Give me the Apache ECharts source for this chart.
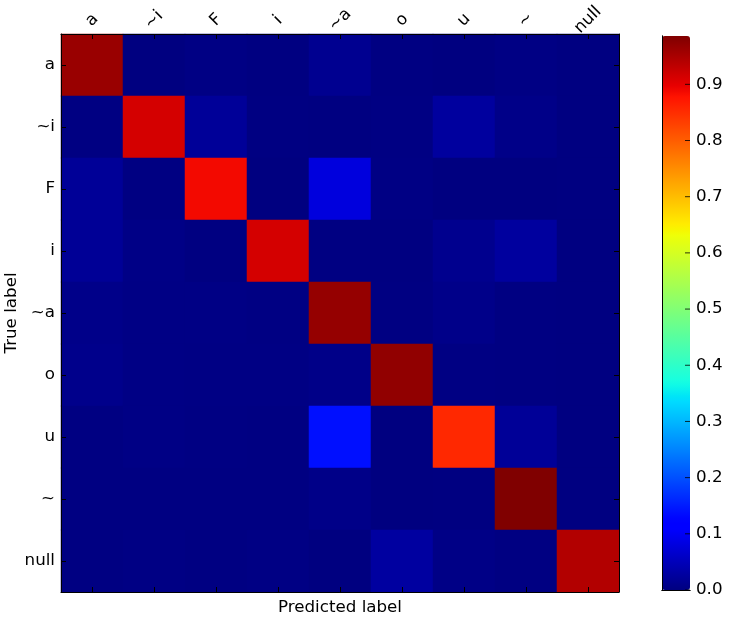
<!doctype html>
<html lang="en">
<head>
    <meta charset="utf-8">
    <title>confusion matrix</title>
    <script src="https://cdn.jsdelivr.net/npm/echarts@6/dist/echarts.min.js"></script>
</head>
<body style="margin:0">
<div id="cm" style="width: 732px;height:617px;"></div>

<script>

var labels = ['a', '~i', 'F', 'i', '~a', 'o', 'u', '~', 'null'];

// rows = true label, columns = predicted label
var rowA    = [0.964, 0.000, 0.004, 0.001, 0.014, 0.002, 0.000, 0.004, 0.001];
var rowTi   = [0.002, 0.914, 0.021, 0.002, 0.001, 0.003, 0.026, 0.007, 0.001];
var rowF    = [0.020, 0.002, 0.887, 0.000, 0.080, 0.004, 0.000, 0.000, 0.001];
var rowI    = [0.019, 0.006, 0.001, 0.914, 0.002, 0.001, 0.012, 0.026, 0.001];
var rowTa   = [0.008, 0.005, 0.005, 0.003, 0.968, 0.002, 0.008, 0.002, 0.001];
var rowO    = [0.010, 0.005, 0.004, 0.004, 0.007, 0.971, 0.003, 0.002, 0.001];
var rowU    = [0.002, 0.005, 0.003, 0.002, 0.138, 0.000, 0.856, 0.020, 0.001];
var rowT    = [0.002, 0.002, 0.002, 0.002, 0.007, 0.000, 0.001, 0.986, 0.001];
var rowNull = [0.002, 0.004, 0.002, 0.004, 0.000, 0.028, 0.006, 0.002, 0.943];

var cbTicks = [0.0, 0.1, 0.2, 0.3, 0.4, 0.5, 0.6, 0.7, 0.8, 0.9];

var rows = [rowA, rowTi, rowF, rowI, rowTa, rowO, rowU, rowT, rowNull];

var cells = [];
var vmax = 0;
rows.forEach(function (r, y) {
    r.forEach(function (v, x) {
        cells.push([x, y, v]);
        if (v > vmax) vmax = v;
    });
});

// matplotlib 'jet' segment data
function seg(pts, t) {
    for (var i = 1; i < pts.length; i++) {
        if (t <= pts[i][0]) {
            var a = pts[i - 1], b = pts[i];
            return a[1] + (b[1] - a[1]) * (t - a[0]) / (b[0] - a[0]);
        }
    }
    return pts[pts.length - 1][1];
}
var jr = [[0, 0], [0.35, 0], [0.66, 1], [0.89, 1], [1, 0.5]];
var jg = [[0, 0], [0.125, 0], [0.375, 1], [0.64, 1], [0.91, 0], [1, 0]];
var jb = [[0, 0.5], [0.11, 1], [0.34, 1], [0.65, 0], [1, 0]];
var jet = [];
for (var k = 0; k <= 200; k++) {
    var t = k / 200;
    jet.push('rgb(' + Math.round(seg(jr, t) * 255) + ',' + Math.round(seg(jg, t) * 255) + ',' + Math.round(seg(jb, t) * 255) + ')');
}

var font = 'DejaVu Sans';
var fs = 16.7;
var blackLine = {show: true, lineStyle: {color: '#000', width: 1}};
var inTick = {show: true, inside: true, length: 5, alignWithLabel: true, lineStyle: {color: '#000'}};

var myChart = echarts.init(document.getElementById('cm'));

myChart.setOption({
    animation: false,
    textStyle: {fontFamily: font, color: '#000'},
    grid: [
        {left: 61, top: 34, width: 558, height: 558, outerBoundsMode: 'none', containLabel: false},
        {left: 662, top: 36, width: 28, height: 554, outerBoundsMode: 'none', containLabel: false}
    ],
    xAxis: [
        {
            type: 'category', data: labels, position: 'top', gridIndex: 0, z: 10,
            axisLine: blackLine, axisTick: inTick, splitLine: {show: false},
            axisLabel: {rotate: -45, align: 'center', verticalAlign: 'middle', margin: 14,
                        fontSize: fs, fontFamily: font, color: '#000'}
        },
        {
            type: 'category', data: labels, position: 'bottom', gridIndex: 0, z: 10,
            axisLine: blackLine, axisTick: inTick, axisLabel: {show: false},
            name: 'Predicted label', nameLocation: 'middle', nameGap: 7,
            nameTextStyle: {fontSize: fs, fontFamily: font, color: '#000'}
        },
        {type: 'value', gridIndex: 1, position: 'top', min: 0, max: 1, zlevel: 1, axisLine: blackLine,
         axisTick: {show: false}, axisLabel: {show: false}, splitLine: {show: false}},
        {type: 'value', gridIndex: 1, position: 'bottom', min: 0, max: 1, zlevel: 1, axisLine: blackLine,
         axisTick: {show: false}, axisLabel: {show: false}, splitLine: {show: false}}
    ],
    yAxis: [
        {
            type: 'category', data: labels, inverse: true, position: 'left', gridIndex: 0, z: 10,
            axisLine: blackLine, axisTick: inTick,
            axisLabel: {margin: 6, fontSize: fs, fontFamily: font, color: '#000'},
            name: 'True label', nameLocation: 'middle', nameGap: 41, nameRotate: 90,
            nameMoveOverlap: false,
            nameTextStyle: {fontSize: fs, fontFamily: font, color: '#000'}
        },
        {
            type: 'category', data: labels, inverse: true, position: 'right', gridIndex: 0, z: 10,
            axisLine: blackLine, axisTick: inTick, axisLabel: {show: false}
        },
        {
            type: 'value', gridIndex: 1, position: 'right', min: 0, max: vmax, interval: 0.1, zlevel: 1,
            axisLine: blackLine, axisTick: {show: false}, splitLine: {show: false},
            axisLabel: {
                margin: 6, fontSize: fs, fontFamily: font, color: '#000', showMaxLabel: false,
                formatter: function (v) {
                    var hit = cbTicks.filter(function (c) { return Math.abs(c - v) < 1e-6; });
                    return hit.length ? hit[0].toFixed(1) : '';
                }
            }
        },
        {type: 'value', gridIndex: 1, position: 'left', min: 0, max: vmax, zlevel: 1,
         axisLine: blackLine, axisTick: {show: false}, axisLabel: {show: false}, splitLine: {show: false}}
    ],
    visualMap: {
        type: 'continuous', min: 0, max: vmax, calculable: false, orient: 'vertical',
        left: 662, top: 36, itemWidth: 28, itemHeight: 554, padding: 0, z: 2,
        text: null, showLabel: false, seriesIndex: 0,
        inRange: {color: jet}
    },
    series: [
        {
            type: 'heatmap',
            xAxisIndex: 0, yAxisIndex: 0,
            data: cells,
            itemStyle: {borderWidth: 0},
            emphasis: {disabled: true}
        },
        {
            // colorbar tick marks, on the inner side of its right edge
            type: 'scatter',
            xAxisIndex: 2, yAxisIndex: 2, zlevel: 1,
            data: cbTicks.map(function (v) { return [1, v]; }),
            symbol: 'rect', symbolSize: [5, 1], symbolOffset: [-2.5, 0],
            itemStyle: {color: '#000'},
            silent: true
        }
    ]
});

</script>

</body>
</html>
